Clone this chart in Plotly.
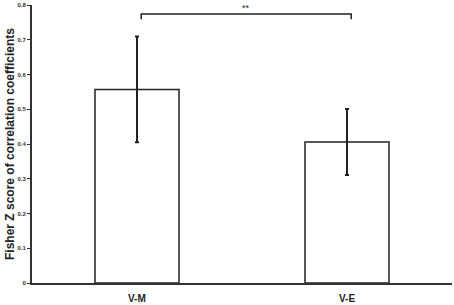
import plotly.graph_objects as go

categories = ["V-M", "V-E"]
means = [0.557, 0.406]
errors = [0.152, 0.095]
y_ticks = [0, 0.1, 0.2, 0.3, 0.4, 0.5, 0.6, 0.7, 0.8]
y_tick_labels = ["0", "0.1", "0.2", "0.3", "0.4", "0.5", "0.6", "0.7", "0.8"]
bracket_y = 0.774
bracket_drop = 0.015
sig_label = "**"

fig = go.Figure()
fig.add_trace(go.Bar(
    x=categories, y=means,
    width=0.4,
    marker=dict(color="white", line=dict(color="#222222", width=1.5)),
    error_y=dict(type="data", array=errors, visible=True,
                 color="#222222", thickness=2, width=2),
))

# significance bracket
fig.add_shape(type="path",
              path=f"M 0.02,{bracket_y - bracket_drop} L 0.02,{bracket_y} L 1.02,{bracket_y} L 1.02,{bracket_y - bracket_drop}",
              xref="x", yref="y", line=dict(color="#222222", width=1.5))
fig.add_annotation(x=0.52, y=bracket_y, xref="x", yref="y", text=sig_label,
                   showarrow=False, yshift=6,
                   font=dict(family="Liberation Sans, Arial", size=9, color="#222222"))

# category labels drawn close under the axis
for c in categories:
    fig.add_annotation(x=c, y=0, xref="x", yref="y", text=f"<b>{c}</b>",
                       showarrow=False, yanchor="middle", yshift=-15,
                       font=dict(family="Liberation Sans, Arial", size=10, color="#222222"))

fig.update_layout(
    width=454, height=305,
    margin=dict(l=32, r=2, t=5, b=22),
    plot_bgcolor="white", paper_bgcolor="white",
    showlegend=False,
    bargap=0.6,
    xaxis=dict(showline=True, linecolor="#333333", linewidth=2,
               ticks="", showgrid=False, showticklabels=False),
    yaxis=dict(range=[0, 0.8], showline=True, linecolor="#333333", linewidth=2,
               tickvals=y_ticks, ticktext=[f"<b>{t}</b>" for t in y_tick_labels],
               ticks="outside", ticklen=3, tickwidth=1, tickcolor="#333333",
               showgrid=False, zeroline=False,
               tickfont=dict(family="Liberation Sans, Arial", size=6, color="#333333"),
               title=dict(text="<b>Fisher Z score of correlation coefficients</b>",
                          font=dict(family="Liberation Sans, Arial", size=12, color="#222222"),
                          standoff=0)),
)

fig.write_html("out.html", config={"displayModeBar": False},
               post_script="document.body.style.margin='0';document.body.style.overflow='hidden';")
